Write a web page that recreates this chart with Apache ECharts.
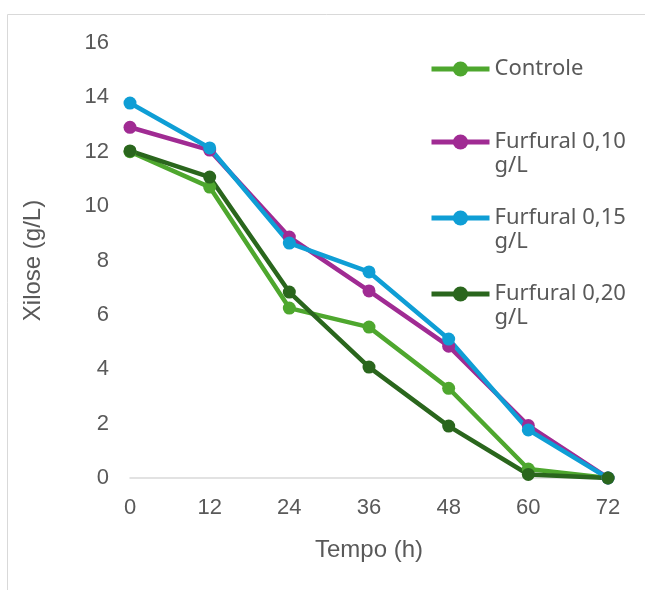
<!DOCTYPE html>
<html>
<head>
<meta charset="utf-8">
<script src="https://cdn.jsdelivr.net/npm/echarts@6/dist/echarts.min.js"></script>
<style>html,body{margin:0;padding:0;background:#fff}#c{width:645px;height:590px}</style>
</head>
<body>
<div id="c"></div>
<script>
const categories = ['0', '12', '24', '36', '48', '60', '72'];
const controle = [12.0, 10.7, 6.25, 5.55, 3.3, 0.33, 0];
const furfural010 = [12.9, 12.06, 8.86, 6.88, 4.85, 1.93, 0];
const furfural015 = [13.79, 12.14, 8.64, 7.58, 5.11, 1.77, 0];
const furfural020 = [12.03, 11.07, 6.84, 4.08, 1.91, 0.13, 0];
const yTicks = [0, 2, 4, 6, 8, 10, 12, 14, 16];

const names = ['Controle', 'Furfural 0,10 g/L', 'Furfural 0,15 g/L', 'Furfural 0,20 g/L'];
const colors = ['#4EA72E', '#A02B93', '#0F9ED5', '#2A661D'];
const values = [controle, furfural010, furfural015, furfural020];

const chart = echarts.init(document.getElementById('c'), null, {renderer: 'canvas'});
const legendTops = [57, 106, 182, 258];
const legends = names.map((n, i) => ({
  left: 429,
  top: legendTops[i],
  padding: 0,
  orient: 'vertical',
  data: [n],
  itemWidth: 58,
  itemHeight: 19,
  selectedMode: false,
  lineStyle: {width: 5},
  formatter: name => {
    const parts = name.split(' g/L');
    return parts.length > 1 ? '{p| }\n{a|' + parts[0] + '}\n{a|g/L}' : '{a|' + name + '}';
  },
  textStyle: {
    fontFamily: 'Noto Sans',
    fontSize: 22,
    color: '#595959',
    lineHeight: 24,
    rich: {
      a: {fontFamily: 'Noto Sans', fontSize: 22, color: '#595959', lineHeight: 24},
      p: {fontSize: 22, lineHeight: 24, height: 24}
    }
  }
}));

chart.setOption({
  animation: false,
  color: colors,
  graphic: [{
    type: 'rect',
    shape: {x: 7.5, y: 14.5, width: 800, height: 800},
    style: {fill: 'none', stroke: '#D9D9D9', lineWidth: 1},
    silent: true, z: -1
  }],
  grid: {left: 130, right: 37, top: 43, bottom: 112},
  legend: legends,
  xAxis: {
    type: 'category',
    data: categories,
    boundaryGap: false,
    name: 'Tempo (h)',
    nameLocation: 'middle',
    nameGap: 60,
    nameTextStyle: {fontFamily: 'Liberation Sans', fontSize: 24, color: '#595959'},
    axisLine: {lineStyle: {color: '#D9D9D9', width: 1.5}},
    axisTick: {show: false},
    axisLabel: {fontFamily: 'Liberation Sans', fontSize: 22, color: '#595959', margin: 19},
    splitLine: {show: false}
  },
  yAxis: {
    type: 'value',
    min: yTicks[0],
    max: yTicks[yTicks.length - 1],
    interval: 2,
    name: 'Xilose (g/L)',
    nameLocation: 'middle',
    nameGap: 85,
    nameTextStyle: {fontFamily: 'Liberation Sans', fontSize: 24, color: '#595959'},
    axisLine: {show: false},
    axisTick: {show: false},
    axisLabel: {fontFamily: 'Liberation Sans', fontSize: 22, color: '#595959', margin: 21},
    splitLine: {show: false}
  },
  series: names.map((n, i) => ({
    name: n,
    type: 'line',
    data: values[i],
    symbol: 'circle',
    symbolSize: 13,
    lineStyle: {width: 4.5, color: colors[i]},
    itemStyle: {color: colors[i]}
  }))
});
</script>
</body>
</html>
